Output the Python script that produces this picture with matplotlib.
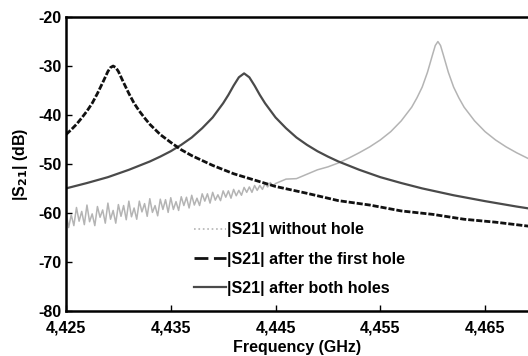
import numpy as np
import matplotlib.pyplot as plt
from matplotlib.lines import Line2D

# frequency offsets in MHz from 4.425 GHz, dB values
first_mhz = [0, 0.5, 1, 1.5, 2, 2.5, 3, 3.5, 4, 4.25, 4.5, 4.75, 5, 5.5, 6, 6.5, 7, 7.5,
             8, 9, 10, 11, 12, 14, 16, 18, 20, 23, 26, 29, 32, 35, 38, 41, 44.5]
first_db = [-44.0, -43.0, -41.9, -40.6, -39.2, -37.6, -35.6, -33.4, -31.1, -30.3, -30.0,
            -30.3, -31.1, -33.4, -35.6, -37.6, -39.2, -40.6, -41.9, -44.0, -45.6, -47.1,
            -48.3, -50.3, -52.0, -53.3, -54.6, -56.0, -57.5, -58.4, -59.6, -60.3, -61.3,
            -61.9, -62.8]

both_mhz = [0, 2, 4, 6, 8, 9, 10, 11, 12, 13, 14, 15, 15.5, 16, 16.5, 17, 17.5, 18, 18.5,
            19, 20, 21, 22, 23, 24, 25, 26, 28, 30, 32, 34, 37, 40, 43, 44.5]
both_db = [-55.0, -53.9, -52.7, -51.2, -49.5, -48.5, -47.4, -46.1, -44.6, -42.7, -40.5,
           -37.6, -35.9, -34.0, -32.3, -31.5, -32.3, -34.0, -35.9, -37.6, -40.5, -42.7,
           -44.6, -46.1, -47.4, -48.5, -49.5, -51.2, -52.7, -53.9, -55.0, -56.4, -57.6,
           -58.7, -59.2]

# without hole: noisy part sampled every 0.25 MHz, then the resonance
nohole_noisy_mhz = np.arange(0, 20.25, 0.25)
nohole_noisy_db = [
    -59.8, -63.0, -60.4, -62.6, -58.9, -61.7, -59.7, -62.4, -58.4, -61.8, -60.2, -62.6,
    -58.7, -60.9, -59.4, -62.1, -58.0, -61.3, -59.5, -62.1, -58.3, -60.7, -58.5, -61.4,
    -57.6, -60.8, -59.0, -61.3, -57.6, -59.8, -58.1, -60.7, -57.1, -59.9, -58.5, -60.6,
    -57.2, -59.3, -57.3, -59.9, -56.9, -59.3, -57.7, -59.5, -56.7, -58.5, -56.8, -59.0,
    -56.4, -58.4, -57.0, -58.5, -56.1, -57.6, -56.1, -58.0, -55.8, -57.4, -56.3, -57.5,
    -55.5, -56.8, -55.5, -57.0, -55.2, -56.5, -55.4, -56.4, -54.8, -55.8, -54.7, -55.8,
    -54.4, -55.4, -54.4, -55.2, -54.0, -54.7, -53.8, -54.6, -54.0]
nohole_peak_mhz = [21, 22, 23, 24, 25, 26, 27, 28, 29, 30, 31, 32, 33, 33.5, 34, 34.5, 35,
                   35.25, 35.5, 35.75, 36, 36.5, 37, 37.5, 38, 39, 40, 41, 42, 43, 44.5]
nohole_peak_db = [-53.1, -53.0, -52.1, -51.2, -50.6, -49.8, -48.8, -47.7, -46.5, -45.1,
                  -43.4, -41.2, -38.4, -36.5, -34.3, -31.3, -27.6, -25.8, -25.0, -25.8,
                  -27.6, -31.3, -34.3, -36.5, -38.4, -41.2, -43.4, -45.1, -46.5, -47.7,
                  -49.3]

tick_ghz = [4.425, 4.435, 4.445, 4.455, 4.465]
tick_labels = ['4,425', '4,435', '4,445', '4,455', '4,465']
y_ticks = [-80, -70, -60, -50, -40, -30, -20]
labels = ['|S21| without hole', '|S21| after the first hole', '|S21| after both holes']

base = 4.425
nohole_f = base + np.concatenate([nohole_noisy_mhz, nohole_peak_mhz]) / 1000
nohole_v = np.concatenate([nohole_noisy_db, nohole_peak_db])
first_f = base + np.array(first_mhz) / 1000
both_f = base + np.array(both_mhz) / 1000

plt.rcParams['font.family'] = ['Liberation Sans', 'DejaVu Sans']
plt.rcParams['font.weight'] = 'bold'
plt.rcParams['font.size'] = 11.5
plt.rcParams['axes.unicode_minus'] = False

fig = plt.figure(figsize=(5.28, 3.56), dpi=100)
ax = fig.add_axes([0.125, 0.127, 0.875, 0.825])

c_light, c_dark, c_black = '#b4b4b4', '#4a4a4a', '#111111'
ax.plot(nohole_f, nohole_v, color=c_light, lw=1.1)
ax.plot(both_f, both_db, color=c_dark, lw=1.6)
ax.plot(first_f, first_db, color=c_black, lw=2.0, dashes=(2.2, 0.7))

ax.set_xlim(4.425, 4.4691)
ax.set_ylim(-80, -20)
ax.set_xticks(tick_ghz)
ax.set_xticklabels(tick_labels)
ax.set_yticks(y_ticks)
ax.tick_params(direction='in', length=4, width=1, labelsize=11.5)
ax.tick_params(axis='x', pad=7)
ax.tick_params(axis='y', pad=3)
for s in ['left', 'bottom', 'top']:
    ax.spines[s].set_linewidth(1.8)
ax.spines['right'].set_visible(False)

ax.set_xlabel('Frequency (GHz)', fontweight='bold', labelpad=3)
ax.set_ylabel('|S$_{\\mathbf{21}}$| (dB)', fontweight='bold', labelpad=6)

handles = [Line2D([], [], color=c_light, lw=1.2, ls=':'),
           Line2D([], [], color=c_black, lw=2.0, dashes=(5, 2)),
           Line2D([], [], color=c_dark, lw=1.6)]
ax.legend(handles, labels, loc='lower left', bbox_to_anchor=(0.252, 0.012), frameon=False,
          handlelength=2.0, handletextpad=0.1, labelspacing=0.9, fontsize=11.5,
          borderpad=0.2)

fig.savefig('out.png', dpi=100)
